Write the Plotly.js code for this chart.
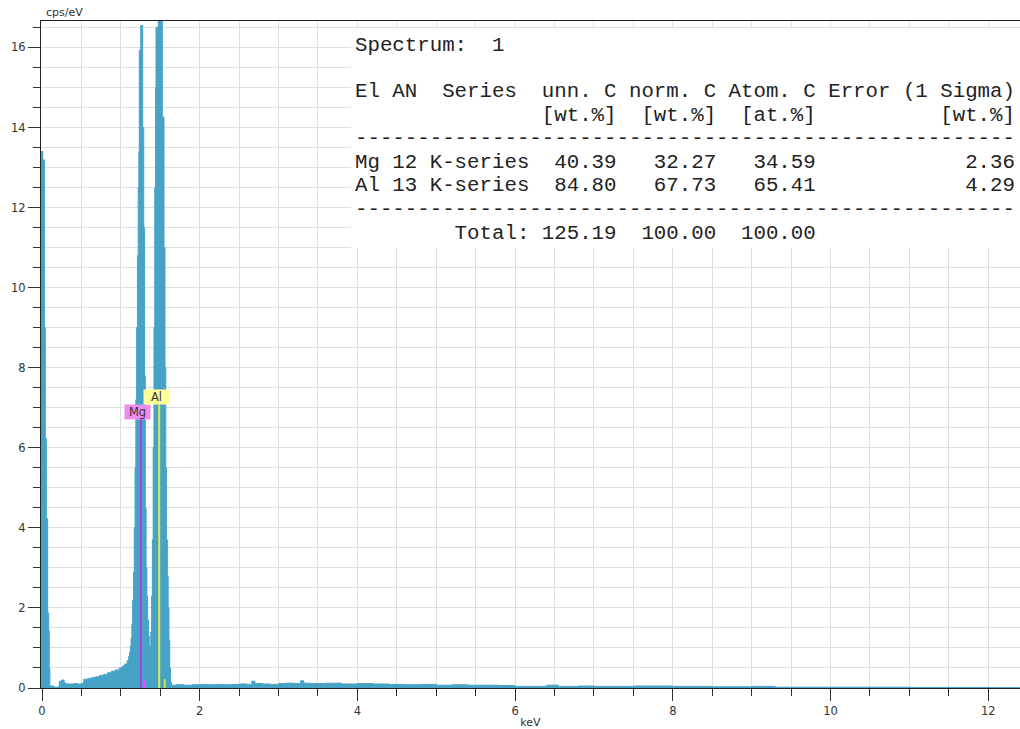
<!DOCTYPE html>
<html>
<head>
<meta charset="utf-8">
<script src="https://cdn.plot.ly/plotly-3.0.1.min.js"></script>
<style>html,body{margin:0;padding:0;background:#fff;}#chart{width:1020px;height:729px;}</style>
</head>
<body>
<div id="chart"></div>
<script>
// ---- spectrum (keV, cps/eV) ----
const energyKeV = [
  -0.02, 0.01, 0.03, 0.042, 0.055, 0.072, 0.085, 0.092, 0.10, 0.15, 0.20, 0.22, 0.25, 0.28, 0.30, 0.35,
  0.40, 0.45, 0.50, 0.53, 0.58, 0.63, 0.68, 0.73, 0.78, 0.83, 0.88, 0.93, 0.98, 1.02, 1.05, 1.08,
  1.10, 1.11, 1.12, 1.13, 1.14, 1.15, 1.16, 1.17, 1.18, 1.19, 1.20, 1.21, 1.22, 1.228, 1.234, 1.252,
  1.277, 1.29, 1.30, 1.31, 1.32, 1.33, 1.34, 1.35, 1.36, 1.37, 1.38, 1.39, 1.40, 1.41, 1.42, 1.43,
  1.44, 1.446, 1.475, 1.526, 1.547, 1.56, 1.57, 1.58, 1.59, 1.60, 1.61, 1.62, 1.63, 1.64, 1.65, 1.70,
  1.80, 1.90, 2.00, 2.10, 2.20, 2.30, 2.40, 2.50, 2.60, 2.66, 2.70, 2.80, 2.90, 3.00, 3.10, 3.20,
  3.28, 3.32, 3.40, 3.60, 3.80, 4.00, 4.20, 4.40, 4.60, 4.80, 5.00, 5.20, 5.40, 5.60, 5.80, 6.00,
  6.20, 6.40, 6.55, 6.80, 7.00, 7.50, 8.00, 8.50, 9.00, 9.30, 10.0, 11.0, 12.0, 12.4
];
const countsCpsEv = [
  13.4, 13.19, 9.0, 6.23, 4.23, 1.87, 1.44, 0.5, 0.05, 0.02, 0.03, 0.17, 0.20, 0.13, 0.10, 0.10,
  0.11, 0.10, 0.12, 0.22, 0.24, 0.26, 0.28, 0.31, 0.34, 0.38, 0.42, 0.45, 0.50, 0.55, 0.60, 0.68,
  0.8, 0.9, 1.05, 1.25, 1.6, 2.2, 2.9, 4.0, 5.5, 7.2, 9.0, 10.8, 12.5, 13.4, 15.93, 16.55,
  14.0, 11.5, 7.8, 4.5, 3.0, 2.3, 1.7, 1.3, 1.05, 1.0, 1.4, 2.3, 3.7, 6.0, 9.0, 12.5,
  15.0, 16.5, 18.5, 14.26, 11.0, 8.0, 5.5, 3.7, 2.8, 2.0, 1.2, 0.5, 0.15, 0.08, 0.07, 0.08,
  0.07, 0.08, 0.09, 0.08, 0.09, 0.08, 0.09, 0.10, 0.09, 0.17, 0.11, 0.10, 0.09, 0.11, 0.12, 0.11,
  0.18, 0.12, 0.11, 0.12, 0.10, 0.11, 0.10, 0.09, 0.08, 0.09, 0.07, 0.08, 0.07, 0.07, 0.06, 0.04,
  0.04, 0.07, 0.04, 0.05, 0.04, 0.05, 0.04, 0.03, 0.04, 0.02, 0.02, 0.015, 0.01, 0.01
];

// ---- element line markers ----
const lineElements = ['Mg', 'Al'];
const alphaEnergies = [1.254, 1.486];
const betaEnergies = [1.302, 1.557];
const betaHeights = [0.19, 0.22];

// ---- quantification table ----
const spectrumName = '1';
const elements = ['Mg', 'Al'];
const atomicNumbers = [12, 13];
const seriesNames = ['K-series', 'K-series'];
const unnC = [40.39, 84.80];
const normC = [32.27, 67.73];
const atomC = [34.59, 65.41];
const sigmaErr = [2.36, 4.29];
const totals = [125.19, 100.00, 100.00];

// ---- geometry helpers (pixels -> paper) ----
const L = 41, T = 21, W = 1020 - 41, H = 729 - 21 - 41;
const px2x = px => (px - L) / W;
const py2y = py => 1 - (py - T) / H;

const spectrumColor = 'rgb(70,163,198)';
const alphaColors = ['#a83ee0', '#e6e64a'];
const betaColors = ['#ff40ff', '#cce640'];
const labelBg = ['#f08cf0', '#ffff99'];
const labelY = [6.9, 7.27];
const lineTop = [6.73, 7.11];
const labelShift = [-3, -2.5];

const traces = [{
  x: energyKeV, y: countsCpsEv, type: 'scatter', mode: 'lines',
  line: {color: spectrumColor, width: 1, shape: 'hv'},
  fill: 'tozeroy', fillcolor: spectrumColor, hoverinfo: 'x+y', showlegend: false
}];
lineElements.forEach((el, i) => {
  traces.push({
    x: [alphaEnergies[i], alphaEnergies[i]], y: [0, lineTop[i]], type: 'scatter', mode: 'lines',
    line: {color: alphaColors[i], width: 2}, showlegend: false, hoverinfo: 'skip'
  });
  traces.push({
    x: [betaEnergies[i], betaEnergies[i]], y: [0, betaHeights[i]], type: 'scatter', mode: 'lines',
    line: {color: betaColors[i], width: 2}, showlegend: false, hoverinfo: 'skip'
  });
});

// table lines
const nb = s => s.replace(/ /g, '\u00a0');
const f2 = v => v.toFixed(2);
const tableLines = [];
tableLines.push('Spectrum:  ' + spectrumName);
tableLines.push('');
tableLines.push('El AN  Series  unn. C norm. C Atom. C Error (1 Sigma)');
tableLines.push(' '.repeat(15) + '[wt.%]' + '  [wt.%]' + '  [at.%]' + '[wt.%]'.padStart(16));
tableLines.push('-'.repeat(53));
elements.forEach((el, i) => {
  tableLines.push(el + ' ' + atomicNumbers[i] + ' ' + seriesNames[i] +
    f2(unnC[i]).padStart(7) + f2(normC[i]).padStart(8) + f2(atomC[i]).padStart(8) + f2(sigmaErr[i]).padStart(16));
});
tableLines.push('-'.repeat(53));
tableLines.push('Total:'.padStart(14) + f2(totals[0]).padStart(7) + f2(totals[1]).padStart(8) + f2(totals[2]).padStart(8));

const annotations = [];
tableLines.forEach((t, i) => {
  if (!t) return;
  annotations.push({
    xref: 'paper', yref: 'paper', x: px2x(354), y: py2y(45 + i * 23.5),
    xanchor: 'left', yanchor: 'middle', showarrow: false, borderpad: 0,
    text: nb(t), font: {family: 'Liberation Mono, Courier New, monospace', size: 20.75, color: '#222'}
  });
});
lineElements.forEach((el, i) => {
  annotations.push({
    xref: 'x', yref: 'y', x: alphaEnergies[i], y: labelY[i], xshift: labelShift[i],
    text: el, showarrow: false, bgcolor: labelBg[i], borderpad: 0, width: 25, height: 14,
    font: {family: 'DejaVu Sans', size: 11.5, color: '#333'}
  });
});
annotations.push({
  xref: 'paper', yref: 'paper', x: px2x(44), y: py2y(13), xanchor: 'left', yanchor: 'middle',
  text: 'cps/eV', showarrow: false, font: {family: 'DejaVu Sans', size: 11, color: '#333'}
});

const gridC = '#dedede';
const axisCommon = {
  ticks: 'outside', ticklen: 12, tickwidth: 1, tickcolor: '#333',
  showline: true, linecolor: '#222', linewidth: 1,
  showgrid: true, gridcolor: gridC, gridwidth: 1, zeroline: false,
  tickfont: {family: 'DejaVu Sans', size: 11.5, color: '#333'},
  minor: {dtick: 0.5, ticks: 'outside', ticklen: 7, tickwidth: 1, tickcolor: '#333', showgrid: true, gridcolor: gridC, gridwidth: 1},
  fixedrange: true
};

const layout = {
  width: 1020, height: 729,
  margin: {l: L, r: 0, t: T, b: 41},
  paper_bgcolor: '#fff', plot_bgcolor: '#fff',
  font: {family: 'DejaVu Sans', size: 11, color: '#333'},
  showlegend: false,
  xaxis: Object.assign({}, axisCommon, {
    range: [-0.0127, 12.403], dtick: 2, tick0: 0, mirror: true,
    title: {text: 'keV', font: {family: 'DejaVu Sans', size: 11, color: '#333'}, standoff: 2}
  }),
  yaxis: Object.assign({}, axisCommon, {range: [0, 16.66], dtick: 2, tick0: 0}),
  shapes: [{
    type: 'rect', xref: 'paper', yref: 'paper', layer: 'above',
    x0: px2x(351), x1: 1.01, y0: py2y(248), y1: py2y(28),
    fillcolor: '#fff', line: {width: 0}
  }],
  annotations: annotations
};

Plotly.newPlot('chart', traces, layout, {displayModeBar: false, staticPlot: true});
</script>
</body>
</html>
